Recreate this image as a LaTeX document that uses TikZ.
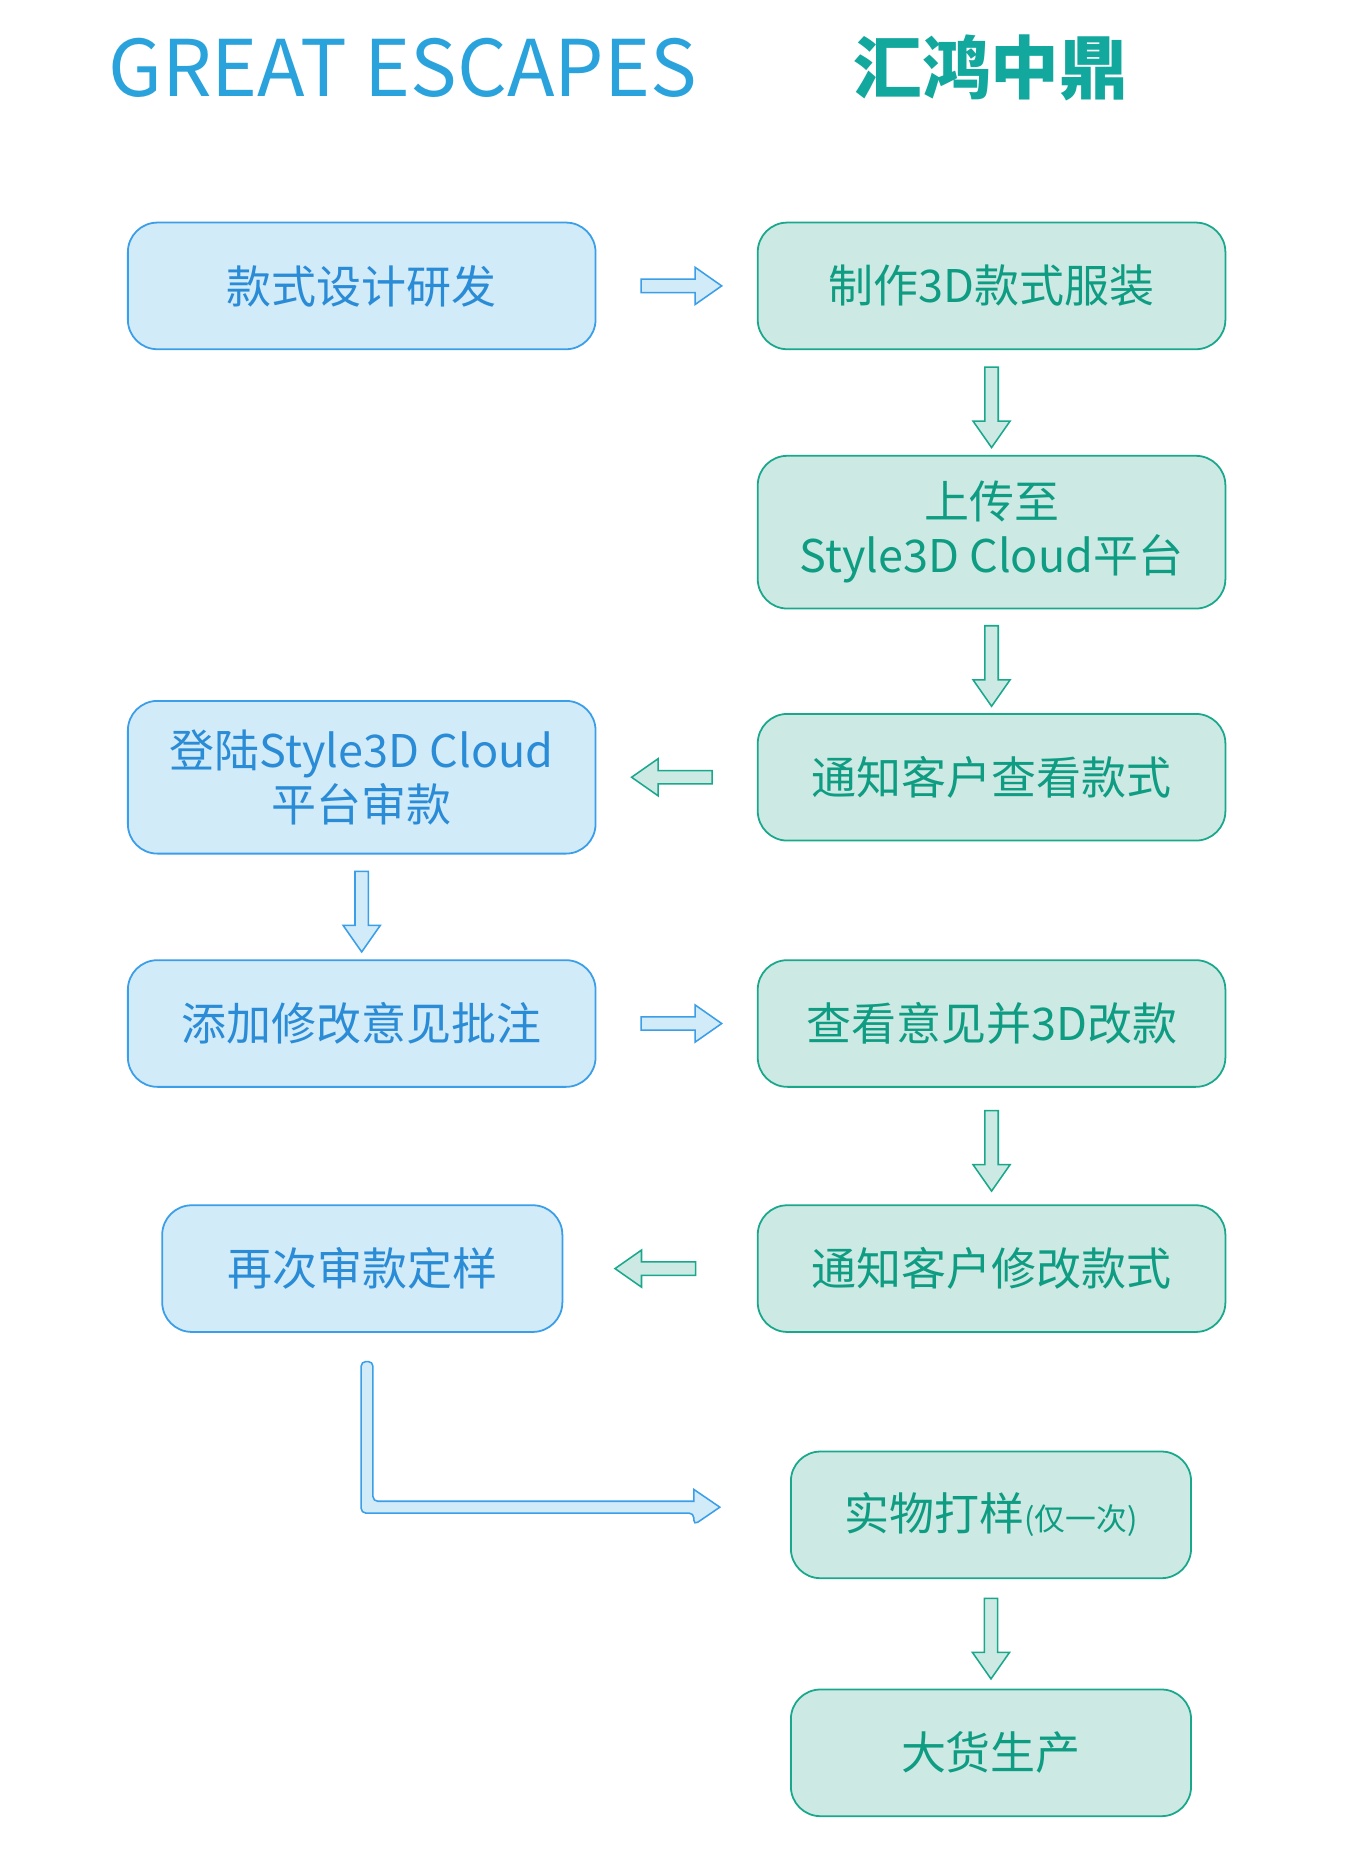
\documentclass[tikz,border=0pt]{standalone}
\usepackage{fontspec}
\setmainfont{Noto Sans CJK SC}
\usetikzlibrary{shapes.arrows,calc}
\definecolor{lfill}{HTML}{D2EBF8}
\definecolor{lline}{HTML}{3A9EE8}
\definecolor{ltext}{HTML}{2A8CD6}
\definecolor{rfill}{HTML}{CDE9E3}
\definecolor{rline}{HTML}{1AA88D}
\definecolor{rtext}{HTML}{0E9C82}
\definecolor{ttl}{HTML}{2AA3DC}
\definecolor{ttr}{HTML}{13A89E}
\begin{document}
\begin{tikzpicture}[x=1pt,y=1pt,
 box/.style={rounded corners=25pt,line width=1.5pt,minimum height=107pt,minimum width=395pt,align=center,font=\fontsize{38}{46}\selectfont},
 lb/.style={box,fill=lfill,draw=lline,text=ltext},
 rb/.style={box,fill=rfill,draw=rline,text=rtext},
 arr/.style={single arrow,line width=1.3pt,minimum width=30pt,minimum height=68pt,inner sep=5pt,single arrow head extend=10pt,single arrow tip angle=70},
 la/.style={arr,fill=lfill,draw=lline},
 ra/.style={arr,fill=rfill,draw=rline}]
\fill[white] (0,0) rectangle (1140,1571);
\useasboundingbox (0,0) rectangle (1140,1571);
\node[text=ttl,font=\fontsize{66}{70}\selectfont] (t1) at (340,1514) {GREAT ESCAPES};
\node[text=ttr,font=\fontsize{58}{62}\selectfont\bfseries] (t2) at (837,1514) {汇鸿中鼎};
\node[lb] (l1) at (305.5,1329.5) {款式设计研发};
\node[rb] (r1) at (837.5,1329.5) {制作3D款式服装};
\node[rb,minimum height=129pt] (r2) at (837.5,1121.5) {上传至\\Style3D Cloud平台};
\node[rb] (r3) at (837.5,914.5) {通知客户查看款式};
\node[lb,minimum height=129pt] (l3) at (305.5,914.5) {登陆Style3D Cloud\\平台审款};
\node[lb] (l4) at (305.5,706.5) {添加修改意见批注};
\node[rb] (r4) at (837.5,706.5) {查看意见并3D改款};
\node[lb,minimum width=338pt] (l5) at (306,499.5) {再次审款定样};
\node[rb] (r5) at (837.5,499.5) {通知客户修改款式};
\node[rb,minimum width=338pt] (r6) at (837,291.5) {实物打样{\fontsize{26}{30}\selectfont(仅一次)}};
\node[rb,minimum width=338pt] (r7) at (837,90.5) {大货生产};
\node[la] (a1) at ($(l1.east)!0.5!(r1.west)$) {};
\node[ra,rotate=-90] (a2) at ($(r1.south)!0.5!(r2.north)$) {};
\node[ra,rotate=-90] (a3) at ($(r2.south)!0.5!(r3.north)$) {};
\node[ra,rotate=180] (a4) at ($(l3.east)!0.5!(r3.west)$) {};
\node[la,rotate=-90] (a5) at ($(l3.south)!0.5!(l4.north)$) {};
\node[la] (a6) at ($(l4.east)!0.5!(r4.west)$) {};
\node[ra,rotate=-90] (a7) at ($(r4.south)!0.5!(r5.north)$) {};
\node[ra,rotate=180] (a8) at ($(l5.east)!0.5!(r5.west)$) {};
\node[ra,rotate=-90] (a9) at ($(r6.south)!0.5!(r7.north)$) {};
% elbow arrow
\coordinate (e0) at (310,421);
\coordinate (e1) at (586,298);
\draw[line width=1.3pt,draw=lline,fill=lfill,rounded corners=4pt]
 (305,421) -- (305,293) -- (586,293) -- (586,283) [sharp corners]-- (608,298) -- (586,313) -- (586,303) [rounded corners=4pt]-- (315,303) -- (315,421) -- cycle;
\end{tikzpicture}
\end{document}
